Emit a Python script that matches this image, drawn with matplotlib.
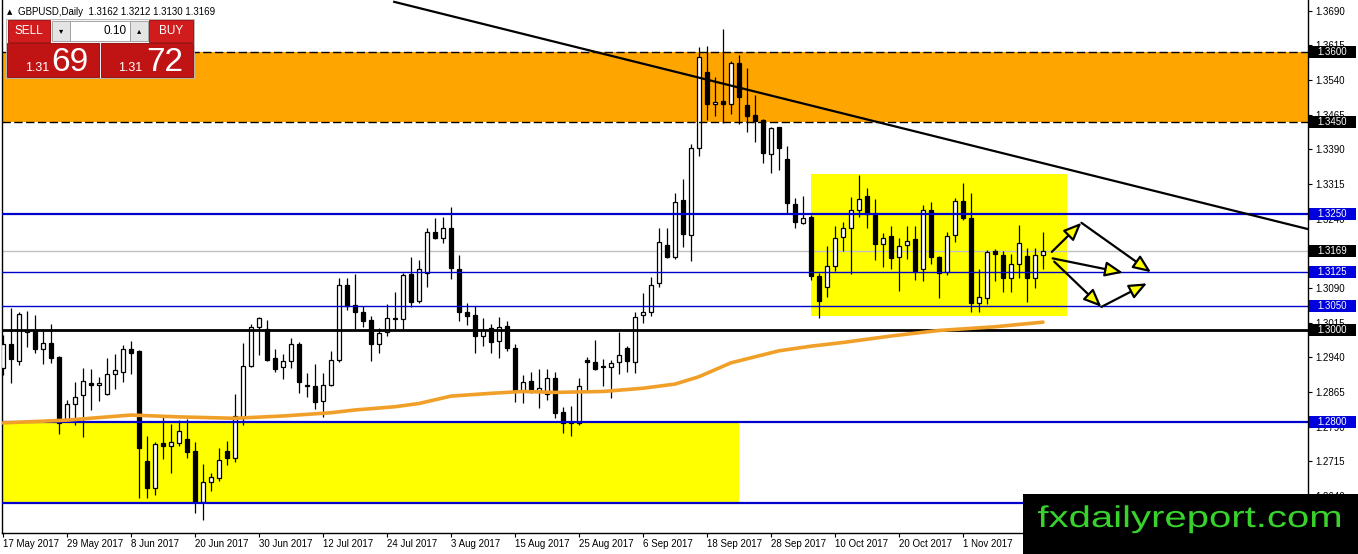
import matplotlib
matplotlib.use('Agg')
import matplotlib.pyplot as plt
from matplotlib.patches import Rectangle, PathPatch
from matplotlib.textpath import TextPath
from matplotlib.font_manager import FontProperties
from matplotlib.transforms import Affine2D, blended_transform_factory
import numpy as np

# ---- data ----
date_labels = ['17 May 2017', '29 May 2017', '8 Jun 2017', '20 Jun 2017', '30 Jun 2017',
               '12 Jul 2017', '24 Jul 2017', '3 Aug 2017', '15 Aug 2017', '25 Aug 2017',
               '6 Sep 2017', '18 Sep 2017', '28 Sep 2017', '10 Oct 2017', '20 Oct 2017',
               '1 Nov 2017', '13 Nov 2017']
date_bars = list(range(0, 129, 8))

opens = [1.2916, 1.2968, 1.2933, 1.2994, 1.2999, 1.2957, 1.2970, 1.2940, 1.2804, 1.2838,
         1.2858, 1.2885, 1.2879, 1.2860, 1.2903, 1.2909, 1.2958, 1.2953, 1.2716, 1.2658,
         1.2754, 1.2747, 1.2755, 1.2763, 1.2737, 1.2626, 1.2671, 1.2679, 1.2737, 1.2721,
         1.2811, 1.2922, 1.3005, 1.3002, 1.2938, 1.2918, 1.2932, 1.2969, 1.2881, 1.2878,
         1.2845, 1.2880, 1.2934, 1.3096, 1.3053, 1.3039, 1.3020, 1.2969, 1.2995, 1.3026,
         1.3022, 1.3121, 1.3062, 1.3122, 1.3210, 1.3199, 1.3219, 1.3132, 1.3037, 1.3031,
         1.2987, 1.3003, 1.2975, 1.3007, 1.2959, 1.2867, 1.2889, 1.2867, 1.2860, 1.2896,
         1.2821, 1.2800, 1.2797, 1.2934, 1.2929, 1.2921, 1.2920, 1.2929, 1.2959, 1.2929,
         1.3031, 1.3039, 1.3100, 1.3183, 1.3158, 1.3280, 1.3204, 1.3392, 1.3558, 1.3488,
         1.3494, 1.3489, 1.3576, 1.3486, 1.3464, 1.3453, 1.3379, 1.3438, 1.3368, 1.3272,
         1.3231, 1.3243, 1.3116, 1.3093, 1.3138, 1.3200, 1.3219, 1.3259, 1.3290, 1.3248,
         1.3184, 1.3202, 1.3156, 1.3183, 1.3196, 1.3130, 1.3259, 1.3157, 1.3125, 1.3205,
         1.3278, 1.3241, 1.3057, 1.3068, 1.3170, 1.3161, 1.3111, 1.3141, 1.3160, 1.3111,
         1.3162]
highs = [1.2988, 1.3046, 1.3037, 1.3040, 1.3031, 1.2997, 1.3012, 1.2943, 1.2847, 1.2887,
         1.2917, 1.2914, 1.2898, 1.2939, 1.2947, 1.2966, 1.2975, 1.2956, 1.2770, 1.2756,
         1.2816, 1.2796, 1.2804, 1.2807, 1.2756, 1.2710, 1.2689, 1.2744, 1.2759, 1.2860,
         1.2970, 1.3012, 1.3028, 1.3020, 1.2958, 1.2948, 1.2981, 1.2974, 1.2905, 1.2925,
         1.2905, 1.2953, 1.3112, 1.3111, 1.3120, 1.3051, 1.3030, 1.3003, 1.3055, 1.3081,
         1.3123, 1.3157, 1.3150, 1.3220, 1.3241, 1.3244, 1.3265, 1.3161, 1.3057, 1.3051,
         1.3024, 1.3013, 1.3028, 1.3019, 1.2968, 1.2902, 1.2909, 1.2915, 1.2915, 1.2909,
         1.2833, 1.2835, 1.2895, 1.2940, 1.2977, 1.2936, 1.2934, 1.2994, 1.2964, 1.3039,
         1.3078, 1.3114, 1.3219, 1.3220, 1.3295, 1.3325, 1.3401, 1.3612, 1.3613, 1.3546,
         1.3650, 1.3580, 1.3594, 1.3565, 1.3507, 1.3455, 1.3438, 1.3439, 1.3397, 1.3284,
         1.3288, 1.3248, 1.3122, 1.3181, 1.3223, 1.3233, 1.3286, 1.3334, 1.3307, 1.3282,
         1.3208, 1.3224, 1.3197, 1.3224, 1.3224, 1.3269, 1.3275, 1.3160, 1.3210, 1.3285,
         1.3316, 1.3295, 1.3131, 1.3172, 1.3174, 1.3170, 1.3163, 1.3226, 1.3176, 1.3176,
         1.3212]
lows = [1.2902, 1.2885, 1.2923, 1.2963, 1.2950, 1.2925, 1.2928, 1.2773, 1.2801, 1.2793,
        1.2767, 1.2827, 1.2846, 1.2858, 1.2871, 1.2886, 1.2904, 1.2635, 1.2635, 1.2642,
        1.2720, 1.2689, 1.2749, 1.2721, 1.2602, 1.2588, 1.2651, 1.2672, 1.2706, 1.2714,
        1.2793, 1.2920, 1.2944, 1.2931, 1.2909, 1.2892, 1.2917, 1.2863, 1.2853, 1.2829,
        1.2811, 1.2878, 1.2930, 1.3042, 1.3000, 1.3006, 1.2931, 1.2950, 1.2985, 1.3000,
        1.3000, 1.3049, 1.3058, 1.3093, 1.3196, 1.3188, 1.3109, 1.3019, 1.3010, 1.2950,
        1.2965, 1.2949, 1.2938, 1.2954, 1.2844, 1.2840, 1.2862, 1.2830, 1.2848, 1.2808,
        1.2777, 1.2770, 1.2793, 1.2869, 1.2913, 1.2877, 1.2851, 1.2903, 1.2909, 1.2907,
        1.3015, 1.3030, 1.3091, 1.3155, 1.3152, 1.3179, 1.3149, 1.3376, 1.3453, 1.3463,
        1.3446, 1.3466, 1.3445, 1.3427, 1.3405, 1.3360, 1.3338, 1.3345, 1.3253, 1.3219,
        1.3228, 1.3107, 1.3024, 1.3071, 1.3127, 1.3171, 1.3120, 1.3244, 1.3220, 1.3151,
        1.3136, 1.3132, 1.3084, 1.3153, 1.3107, 1.3105, 1.3142, 1.3068, 1.3118, 1.3189,
        1.3237, 1.3039, 1.3039, 1.3055, 1.3105, 1.3082, 1.3082, 1.3111, 1.3059, 1.3089,
        1.3130]
closes = [1.2968, 1.2937, 1.3033, 1.2999, 1.2958, 1.2970, 1.2939, 1.2797, 1.2838, 1.2855,
          1.2889, 1.2880, 1.2885, 1.2903, 1.2912, 1.2957, 1.2950, 1.2744, 1.2658, 1.2753,
          1.2749, 1.2756, 1.2780, 1.2734, 1.2626, 1.2670, 1.2681, 1.2717, 1.2721, 1.2814,
          1.2922, 1.3005, 1.3024, 1.2934, 1.2915, 1.2932, 1.2968, 1.2887, 1.2878, 1.2844,
          1.2881, 1.2935, 1.3096, 1.3052, 1.3037, 1.3019, 1.2969, 1.2993, 1.3024, 1.3022,
          1.3118, 1.3060, 1.3132, 1.3210, 1.3199, 1.3219, 1.3134, 1.3037, 1.3030, 1.2987,
          1.3000, 1.2972, 1.3006, 1.2960, 1.2867, 1.2887, 1.2867, 1.2873, 1.2896, 1.2819,
          1.2797, 1.2797, 1.2877, 1.2929, 1.2915, 1.2919, 1.2927, 1.2946, 1.2931, 1.3028,
          1.3039, 1.3096, 1.3190, 1.3158, 1.3277, 1.3206, 1.3392, 1.3589, 1.3489, 1.3492,
          1.3487, 1.3576, 1.3504, 1.3461, 1.3452, 1.3381, 1.3435, 1.3392, 1.3273, 1.3233,
          1.3242, 1.3115, 1.3061, 1.3138, 1.3197, 1.3219, 1.3259, 1.3282, 1.3249, 1.3185,
          1.3199, 1.3154, 1.3181, 1.3192, 1.3127, 1.3259, 1.3156, 1.3123, 1.3202, 1.3278,
          1.3241, 1.3057, 1.3071, 1.3167, 1.3163, 1.3111, 1.3141, 1.3187, 1.3111, 1.3161,
          1.3169]

# moving average, read at a few bars
ma_bars = [0, 8, 16, 22, 29, 35, 41, 44, 49, 52, 56, 61, 65, 69, 75, 80, 84, 87,
           91, 97, 101, 105, 111, 117, 124, 130]
ma_vals = [1.2798, 1.2804, 1.2815, 1.2811, 1.2808, 1.2813, 1.2820, 1.2826, 1.2833, 1.2840,
           1.2856, 1.2862, 1.2866, 1.2864, 1.2866, 1.2873, 1.2882, 1.2898, 1.2928, 1.2954,
           1.2964, 1.2972, 1.2986, 1.2998, 1.3006, 1.3016]

trend_bars = [48.9, 163.2]
trend_vals = [1.3709, 1.3217]

resist_zone = (1.3450, 1.3600)
low_box = (0, 92, 1.2625, 1.2800)
range_box = (101, 133, 1.3029, 1.3337)

blue_levels = [1.3250, 1.3125, 1.3050, 1.2800, 1.2625]
blue_widths = [1.6, 1.0, 1.0, 1.6, 1.6]
key_level = 1.3000
label_levels = [1.3600, 1.3450, 1.3250, 1.3169, 1.3125, 1.3050, 1.3000, 1.2800]
label_colors = ['black', 'black', '#0000dd', 'black', '#0000dd', '#0000dd', 'black', '#0000dd']

yticks = [1.2640, 1.2715, 1.2790, 1.2865, 1.2940, 1.3015, 1.3090, 1.3165,
          1.3240, 1.3315, 1.3390, 1.3465, 1.3540, 1.3615, 1.3690]

# scenario arrows (bar, price)
arrows = [((131.1, 1.3168), (134.8, 1.3231)),
          ((134.8, 1.3231), (143.5, 1.3124)),
          ((131.2, 1.3154), (140.0, 1.3123)),
          ((131.4, 1.3147), (137.3, 1.3049)),
          ((137.3, 1.3049), (143.0, 1.3100))]

W, H = 1358, 554
plt.rcParams['font.family'] = ['Liberation Sans', 'DejaVu Sans']

fig = plt.figure(figsize=(W / 100, H / 100), dpi=100)
ax = fig.add_axes([2 / W, 21 / H, 1306 / W, 533 / H])
ax.set_xlim(-0.125, 163.125)
ax.set_ylim(1.25598, 1.37130)

o = np.array(opens); h = np.array(highs); l = np.array(lows); c = np.array(closes)
x = np.arange(len(o))

# zones
ax.axhspan(resist_zone[0], resist_zone[1], color='#ffa500', lw=0, zorder=1)
for b0, b1, p0, p1 in [low_box, range_box]:
    ax.add_patch(Rectangle((b0, p0), b1 - b0, p1 - p0, color='#ffff00', lw=0, zorder=1))

# candles
up = c >= o
ax.vlines(x, l, h, color='black', lw=0.9, zorder=3)
body = np.maximum(np.abs(c - o), 0.0002)
ax.bar(x, body, bottom=np.minimum(o, c), width=0.62,
       color=np.where(up, 'white', 'black'), edgecolor='black', linewidth=0.9, zorder=4)

# levels
for p in resist_zone:
    ax.axhline(p, color='black', lw=1.0, ls=(0, (6, 2.5)), zorder=5)
for p, w in zip(blue_levels, blue_widths):
    ax.axhline(p, color='#0000cd', lw=w, zorder=5)
ax.axhline(key_level, color='black', lw=2.0, zorder=5)
ax.axhline(closes[-1], color='#c0c0c0', lw=1.0, zorder=2)

ax.plot(ma_bars, ma_vals, color='#f0a028', lw=2.6, solid_capstyle='round', zorder=6)
ax.plot(trend_bars, trend_vals, color='black', lw=1.6, zorder=6)

for (x0, y0), (x1, y1) in arrows:
    ax.annotate('', xy=(x1, y1), xytext=(x0, y0),
                arrowprops=dict(arrowstyle='-|>,head_length=0.9,head_width=0.38',
                                fc='#ffff00', ec='black', lw=1.6, mutation_scale=12,
                                shrinkA=0, shrinkB=0), zorder=7)

# axes look
for s in ['top']:
    ax.spines[s].set_visible(False)
for s in ['left', 'right', 'bottom']:
    ax.spines[s].set_linewidth(1.0)
ax.yaxis.tick_right()
ax.set_yticks(yticks)
ax.set_yticklabels(['%.4f' % v for v in yticks])
ax.tick_params(axis='y', length=3, pad=2, labelsize=7)
ax.set_xticks(date_bars)
ax.set_xticklabels(date_labels, ha='left')
ax.tick_params(axis='x', length=3, pad=1, labelsize=7)

# price tags on the right
tr = blended_transform_factory(ax.transAxes, ax.transData)
for p, col in zip(label_levels, label_colors):
    ax.add_patch(Rectangle((1 + 1 / 1306, p - 0.0013), 47 / 1306, 0.0026, transform=tr,
                           color=col, lw=0, clip_on=False, zorder=10))
    ax.text(1 + 24.5 / 1306, p, '%.4f' % p, transform=tr, ha='center', va='center',
            color='white', fontsize=7, clip_on=False, zorder=11)


# ---- trading panel in the top-left corner (pixel coords from top) ----
def box(x0, y0, w, hh, **kw):
    fig.add_artist(Rectangle((x0 / W, 1 - (y0 + hh) / H), w / W, hh / H,
                             transform=fig.transFigure, **kw))


def label(x0, y0, s, **kw):
    fig.text(x0 / W, 1 - y0 / H, s, **kw)


label(7, 12, '\u25b2', fontsize=5, va='center', family='DejaVu Sans', zorder=6)
label(18, 12, 'GBPUSD,Daily  1.3162 1.3212 1.3130 1.3169', fontsize=7, va='center', zorder=6)

box(6, 19, 188, 59, fc='#f4f4f4', ec='#b0b0b0', lw=0.6, zorder=4)
box(8, 20, 42, 22, fc='#d01c1c', ec='#a00000', lw=0.6, zorder=5)
box(149, 20, 44, 22, fc='#d01c1c', ec='#a00000', lw=0.6, zorder=5)
box(52, 21, 18, 20, fc='#e4e4e4', ec='#9a9a9a', lw=0.6, zorder=5)
box(70, 21, 60, 20, fc='white', ec='#9a9a9a', lw=0.6, zorder=5)
box(130, 21, 18, 20, fc='#e4e4e4', ec='#9a9a9a', lw=0.6, zorder=5)
box(7, 43, 92, 34, fc='#c01414', ec='#900000', lw=0.6, zorder=5)
box(101, 43, 92, 34, fc='#c01414', ec='#900000', lw=0.6, zorder=5)
label(29, 31, 'SELL', fontsize=8.5, color='white', ha='center', va='center', zorder=6)
label(171, 31, 'BUY', fontsize=8.5, color='white', ha='center', va='center', zorder=6)
label(61, 31, '\u25be', fontsize=6, ha='center', va='center', family='DejaVu Sans', zorder=6)
label(139, 31, '\u25b4', fontsize=6, ha='center', va='center', family='DejaVu Sans', zorder=6)
label(127, 31, '0.10', fontsize=8.5, ha='right', va='center', zorder=6)
label(25, 71, '1.31', fontsize=9, color='white', ha='left', va='baseline', zorder=6)
label(51, 71, '69', fontsize=24, color='white', ha='left', va='baseline', zorder=6)
label(118, 71, '1.31', fontsize=9, color='white', ha='left', va='baseline', zorder=6)
label(146, 71, '72', fontsize=24, color='white', ha='left', va='baseline', zorder=6)

# ---- watermark ----
box(1023, 494, 335, 60, fc='black', lw=0, zorder=8)
tp = TextPath((0, 0), 'fxdailyreport.com', size=30, prop=FontProperties(family='Liberation Sans'))
ext = tp.get_extents()
sx = 302 / ext.width
wm = Affine2D().translate(-ext.x0, 0).scale(sx, 1.0).translate(1038, H - 527)
fig.add_artist(PathPatch(tp, transform=wm, fc='#38d22c', lw=0, zorder=9))

fig.savefig('out.png', dpi=100)
